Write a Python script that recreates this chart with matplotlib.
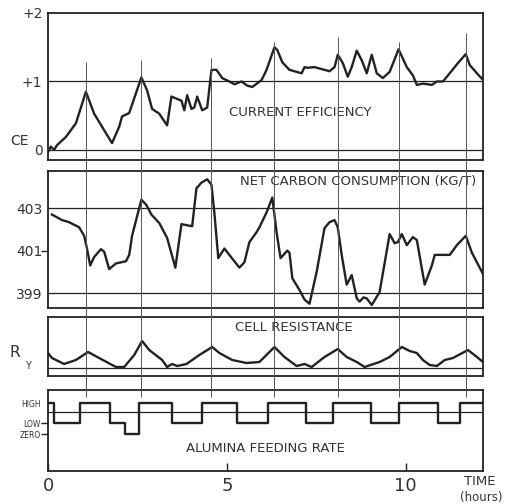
import matplotlib.pyplot as plt
import numpy as np

# time axis in hours
ce_t = [0.0, 0.08, 0.17, 0.25, 0.50, 0.78, 1.06, 1.29, 1.79, 1.99, 2.07, 2.27, 2.61, 2.77,
        2.91, 3.11, 3.33, 3.45, 3.73, 3.81, 3.89, 4.01, 4.09, 4.17, 4.31, 4.45, 4.57, 4.71,
        4.87, 5.07, 5.21, 5.41, 5.57, 5.71, 5.97, 6.11, 6.33, 6.41, 6.55, 6.75, 7.09, 7.17,
        7.25, 7.45, 7.87, 8.01, 8.10, 8.24, 8.38, 8.49, 8.63, 8.77, 8.91, 9.05, 9.19, 9.36,
        9.55, 9.80, 10.03, 10.20, 10.31, 10.48, 10.73, 10.87, 11.04, 11.23, 11.46, 11.68,
        11.79, 11.99, 12.13]
ce_v = [-0.03, 0.05, 0.0, 0.07, 0.19, 0.39, 0.85, 0.53, 0.10, 0.34, 0.49, 0.54, 1.06, 0.87,
        0.60, 0.53, 0.36, 0.78, 0.72, 0.58, 0.80, 0.60, 0.62, 0.78, 0.58, 0.62, 1.17, 1.17,
        1.05, 1.00, 0.96, 1.00, 0.94, 0.92, 1.02, 1.17, 1.50, 1.46, 1.28, 1.17, 1.12, 1.21,
        1.20, 1.21, 1.15, 1.21, 1.39, 1.27, 1.07, 1.21, 1.45, 1.31, 1.12, 1.39, 1.12, 1.05,
        1.14, 1.47, 1.21, 1.09, 0.95, 0.97, 0.95, 1.00, 1.00, 1.12, 1.27, 1.40,
        1.24, 1.12, 1.04]

nc_t = [0.11, 0.39, 0.59, 0.87, 1.01, 1.09, 1.18, 1.29, 1.48, 1.57, 1.71, 1.90, 2.18, 2.27,
        2.35, 2.61, 2.75, 2.89, 3.11, 3.33, 3.56, 3.73, 3.87, 4.03, 4.15, 4.29, 4.45, 4.57,
        4.65, 4.76, 4.93, 5.07, 5.35, 5.49, 5.63, 5.83, 5.91, 6.11, 6.27, 6.39, 6.50, 6.69,
        6.75, 6.83, 7.03, 7.17, 7.31, 7.51, 7.73, 7.87, 8.01, 8.10, 8.21, 8.35, 8.49, 8.63,
        8.71, 8.82, 8.91, 9.05, 9.27, 9.55, 9.69, 9.78, 9.89, 10.03, 10.20, 10.31, 10.53,
        10.73, 10.81, 11.23, 11.43, 11.68, 11.85, 12.16]
nc_v = [402.7, 402.44, 402.34, 402.1, 401.7, 401.1, 400.3, 400.7, 401.07, 400.95, 400.13,
        400.4, 400.5, 400.8, 401.7, 403.4, 403.15, 402.7, 402.3, 401.6, 400.2, 402.25, 402.2,
        402.15, 403.94, 404.2, 404.36, 404.1, 402.8, 400.65, 401.1, 400.8, 400.2, 400.45,
        401.4, 401.87, 402.1, 402.8, 403.5, 401.87, 400.65, 401.0, 400.9, 399.7, 399.15,
        398.7, 398.5, 400.0, 402.06, 402.34, 402.44, 402.1, 400.8, 399.4, 399.85, 398.76,
        398.6, 398.8, 398.75, 398.44, 399.05, 401.78, 401.35, 401.4, 401.78, 401.26, 401.64,
        401.5, 399.4, 400.3, 400.8, 400.8, 401.26, 401.7, 400.9, 399.9]

cr_t = [0.0, 0.11, 0.45, 0.78, 1.12, 1.43, 1.90, 2.13, 2.41, 2.63, 2.83, 3.19, 3.33, 3.47,
        3.61, 3.87, 4.23, 4.59, 4.79, 5.15, 5.55, 5.91, 6.33, 6.61, 6.95, 7.17, 7.37, 7.73,
        8.10, 8.35, 8.63, 8.85, 9.27, 9.55, 9.89, 10.11, 10.31, 10.48, 10.67, 10.87, 11.09,
        11.32, 11.74, 11.99, 12.16]
cr_v = [15, 10, 4, 8, 16, 10, 1, 1, 13, 27, 18, 8, 1, 4, 2, 4, 13, 21, 15, 8, 5, 6, 21, 11,
        2, 4, 1, 11, 19, 11, 6, 1, 6, 11, 21, 17, 15, 8, 3, 2, 8, 10, 18, 11, 6]

HIGH, LOW, ZERO = 2.8, 1.0, 0.0
af_t = [0.0, 0.17, 0.90, 1.74, 2.16, 2.55, 3.47, 4.31, 5.27, 6.16, 7.20, 7.96, 9.02, 9.80,
        10.90, 11.51, 12.16]
af_v = [HIGH, LOW, HIGH, LOW, ZERO, HIGH, LOW, HIGH, LOW, HIGH, LOW, HIGH, LOW, HIGH,
        LOW, HIGH, HIGH]

grid_t = [1.06, 2.61, 4.57, 6.33, 8.10, 9.80, 11.68]
grid_top = [62, 60, 58, 42, 37, 42, 33]

XMAX = 12.16
ink = '#222222'
txt = '#333333'

plt.rcParams['font.family'] = ['DejaVu Sans']
fig = plt.figure(figsize=(5.14, 5.04), dpi=100)

W, H = 514, 504
def box(top, bot, l=48, r=483):
    return [l / W, 1 - bot / H, (r - l) / W, (bot - top) / H]

ax1 = fig.add_axes(box(13, 160))
ax2 = fig.add_axes(box(171, 308))
ax3 = fig.add_axes(box(317, 376))
ax4 = fig.add_axes(box(390, 471))

for ax in (ax1, ax2, ax3, ax4):
    ax.set_xlim(0, XMAX)
    ax.set_facecolor('none')
    for s in ax.spines.values():
        s.set_linewidth(1.3)
        s.set_color(ink)
    ax.tick_params(axis='y', length=0, labelsize=10, labelcolor=txt, pad=4)
    ax.set_xticks([])
    ax.yaxis.remove_overlapping_locs = False

# current efficiency
ax1.plot(ce_t, ce_v, color=ink, lw=1.7)
ax1.axhline(1, color=ink, lw=0.9)
ax1.axhline(0, color=ink, lw=0.9)
ax1.set_ylim(-0.146, 2.0)
ax1.set_yticks([2, 1, 0], ['+2', '+1', '0'])
ax1.text(-0.045, 0.13, 'CE', transform=ax1.get_yaxis_transform(), ha='right', va='center',
         fontsize=10, color=txt)
ax1.text(0.58, 0.32, 'CURRENT EFFICIENCY', transform=ax1.transAxes, ha='center', va='center',
         fontsize=9.5, color=txt)

# net carbon consumption
ax2.plot(nc_t, nc_v, color=ink, lw=1.7)
ax2.axhline(403, color=ink, lw=0.9)
ax2.axhline(399, color=ink, lw=0.9)
ax2.set_ylim(398.3, 404.75)
ax2.set_yticks([403, 401, 399], ['403', '401', '399'])
ax2.set_yticks([401], minor=True)
ax2.tick_params(axis='y', which='minor', length=5, width=1, color=ink)
ax2.text(0.985, 0.93, 'NET CARBON CONSUMPTION (KG/T)', transform=ax2.transAxes, ha='right',
         va='center', fontsize=9.5, color=txt)

# cell resistance
ax3.plot(cr_t, cr_v, color=ink, lw=1.7)
ax3.axhline(0, color=ink, lw=0.9)
ax3.set_ylim(-8, 51)
ax3.set_yticks([])
ax3.text(-0.065, 0.40, 'R', transform=ax3.transAxes, ha='right', va='center',
         fontsize=11, color=txt)
ax3.text(-0.04, 0.17, 'Y', transform=ax3.transAxes, ha='right', va='center',
         fontsize=7, color=txt)
ax3.text(0.565, 0.83, 'CELL RESISTANCE', transform=ax3.transAxes, ha='center', va='center',
         fontsize=9.5, color=txt)

# alumina feeding rate
ax4.step(af_t, af_v, where='post', color=ink, lw=1.7)
ax4.axhline(2.0, color=ink, lw=0.9)
ax4.set_ylim(-3.36, 4.0)
ax4.set_yticks([HIGH, LOW, ZERO], ['HIGH', 'LOW', 'ZERO'])
ax4.tick_params(axis='y', labelsize=5.5, pad=5)
ax4.set_yticks([LOW, ZERO], minor=True)
ax4.tick_params(axis='y', which='minor', length=5, width=1, color=ink)
ax4.text(0.5, 0.28, 'ALUMINA FEEDING RATE', transform=ax4.transAxes, ha='center',
         va='center', fontsize=9.5, color=txt)
ax4.set_xticks([0, 5, 10], ['0', '5', '10'])
ax4.tick_params(axis='x', direction='in', length=6, width=1, color=ink, labelsize=13,
                labelcolor=txt, pad=4)
ax4.text(XMAX - 0.1, -0.13, 'TIME', transform=ax4.get_xaxis_transform(), ha='center',
         va='center', fontsize=9.5, color=txt)
ax4.text(XMAX - 0.05, -0.33, '(hours)', transform=ax4.get_xaxis_transform(), ha='center',
         va='center', fontsize=8.5, color=txt)

# vertical marker lines across all panels
ov = fig.add_axes(box(0, H))
ov.set_xlim(0, XMAX)
ov.set_ylim(H, 0)
ov.axis('off')
ov.vlines(grid_t, grid_top, 397, color='#555555', lw=0.7)

fig.savefig('out.png', dpi=100)
